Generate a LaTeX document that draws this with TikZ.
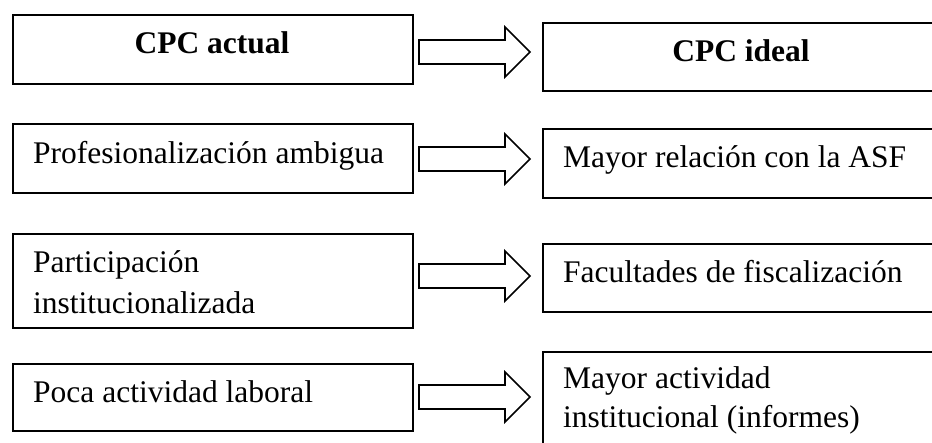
\documentclass[tikz,border=0pt]{standalone}
\usepackage{fontspec}
\setmainfont{Liberation Serif}
\begin{document}
\begin{tikzpicture}[x=1pt,y=-1pt,
  box/.style={draw=black, line width=1.6pt, inner sep=0pt, anchor=north west},
  txt/.style={inner sep=0pt, anchor=base west, font=\fontsize{31.5}{38}\selectfont},
  ttl/.style={inner sep=0pt, anchor=base, font=\fontsize{31.5}{38}\selectfont\bfseries},
  blockarrow/.style={draw=black, line width=1.6pt, line join=miter, fill=white}]
\clip (0,0) rectangle (932,443);
% left boxes
\node[box, minimum width=400pt, minimum height=69pt] (l1) at (12,14) {};
\node[box, minimum width=400pt, minimum height=69pt] (l2) at (12,123) {};
\node[box, minimum width=400pt, minimum height=94pt] (l3) at (12,233) {};
\node[box, minimum width=400pt, minimum height=67pt] (l4) at (12,363) {};
% right boxes
\node[box, minimum width=403pt, minimum height=68pt] (r1) at (542,22) {};
\node[box, minimum width=403pt, minimum height=69pt] (r2) at (542,128) {};
\node[box, minimum width=403pt, minimum height=68pt] (r3) at (542,243) {};
\node[box, minimum width=403pt, minimum height=120pt] (r4) at (542,351) {};
% texts
\node[ttl] (tl1) at (212,54) {CPC actual};
\node[ttl] (tr1) at (741,62) {CPC ideal};
\node[txt] (tl2) at (33,164) {Profesionalización ambigua};
\node[txt] (tr2) at (563,168) {Mayor relación con la ASF};
\node[txt] (tl3a) at (33,273) {Participación};
\node[txt] (tl3b) at (33,314) {institucionalizada};
\node[txt] (tr3) at (563,283) {Facultades de fiscalización};
\node[txt] (tl4) at (33,403) {Poca actividad laboral};
\node[txt] (tr4a) at (563,389) {Mayor actividad};
\node[txt] (tr4b) at (563,428) {institucional (informes)};
% block arrows
\foreach \c/\n in {52/a1,159/a2,276/a3,397/a4}{
  \draw[blockarrow] (419,{\c-12}) -- (505,{\c-12}) -- (505,{\c-25}) -- (530,\c)
     -- (505,{\c+25}) -- (505,{\c+12}) -- (419,{\c+12}) -- cycle;
}
\end{tikzpicture}
\end{document}
